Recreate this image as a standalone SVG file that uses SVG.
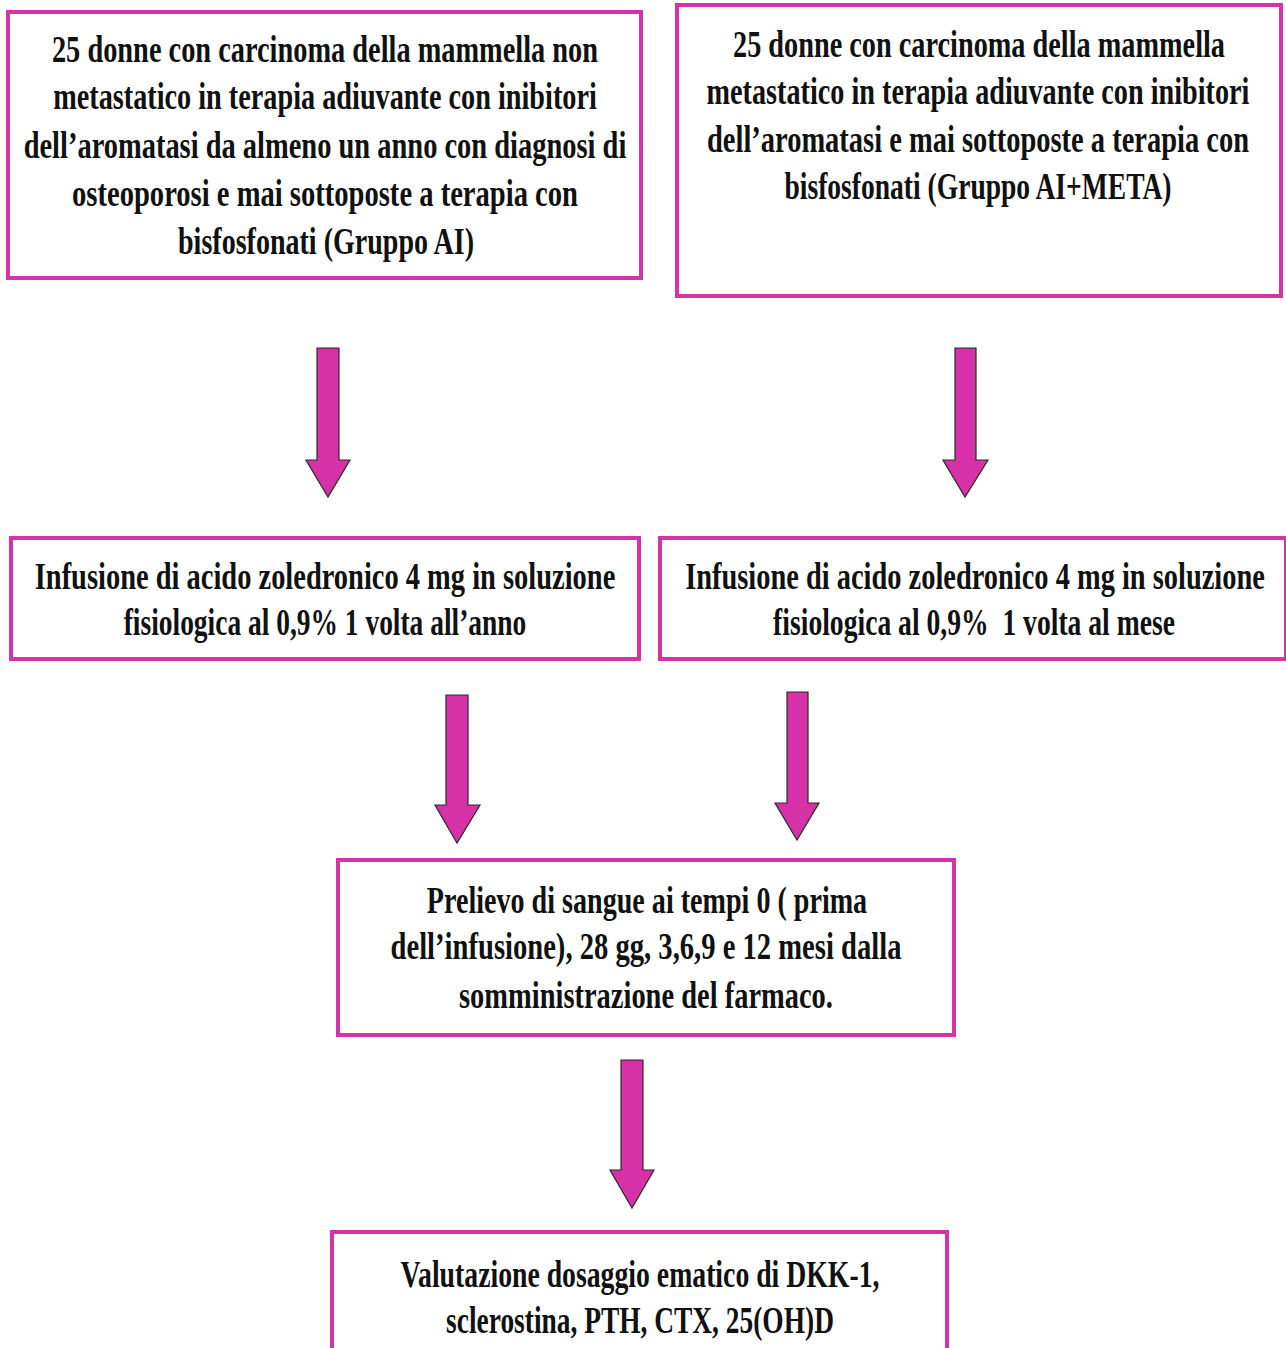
<svg xmlns="http://www.w3.org/2000/svg" width="1286" height="1348" viewBox="0 0 1286 1348">
<style>
.box{fill:#ffffff;stroke:#d633a9;stroke-width:4}
.t{font-family:"Liberation Serif","Times New Roman",serif;font-weight:bold;font-size:38px;fill:#111;text-anchor:middle}
.arr{fill:#d631a7;stroke:#2a2a2a;stroke-width:1.2;stroke-linejoin:miter}
</style>
<rect width="1286" height="1348" fill="#ffffff"/>
<g id="connectors">
<polygon class="arr" points="317,348 339,348 339,460 350,460 328,497 306,460 317,460"/>
<polygon class="arr" points="955,348 976,348 976,460 988,460 965,497 943,460 955,460"/>
<polygon class="arr" points="446,695 468,695 468,805 480,805 457,843 435,805 446,805"/>
<polygon class="arr" points="787,692 808,692 808,803 819,803 797,840 775,803 787,803"/>
<polygon class="arr" points="621,1060 643,1060 643,1170 654,1170 632,1208 610,1170 621,1170"/>
</g>
<g id="node-ai">
<rect class="box" x="8" y="12" width="633" height="266"/>
<text class="t" transform="translate(325,62) scale(0.82,1)" textLength="666" lengthAdjust="spacingAndGlyphs">25 donne con carcinoma della mammella non</text>
<text class="t" transform="translate(325,109) scale(0.82,1)" textLength="663" lengthAdjust="spacingAndGlyphs">metastatico in terapia adiuvante con inibitori</text>
<text class="t" transform="translate(325,158) scale(0.82,1)" textLength="735" lengthAdjust="spacingAndGlyphs">dell’aromatasi da almeno un anno con diagnosi di</text>
<text class="t" transform="translate(325,206) scale(0.82,1)" textLength="617" lengthAdjust="spacingAndGlyphs">osteoporosi e mai sottoposte a terapia con</text>
<text class="t" transform="translate(326,254) scale(0.82,1)" textLength="361" lengthAdjust="spacingAndGlyphs">bisfosfonati (Gruppo AI)</text>
</g>
<g id="node-aimeta">
<rect class="box" x="677" y="5" width="604" height="291"/>
<text class="t" transform="translate(979,57) scale(0.82,1)" textLength="600" lengthAdjust="spacingAndGlyphs">25 donne con carcinoma della mammella</text>
<text class="t" transform="translate(978,104) scale(0.82,1)" textLength="662" lengthAdjust="spacingAndGlyphs">metastatico in terapia adiuvante con inibitori</text>
<text class="t" transform="translate(978,152) scale(0.82,1)" textLength="661" lengthAdjust="spacingAndGlyphs">dell’aromatasi e mai sottoposte a terapia con</text>
<text class="t" transform="translate(978,199) scale(0.82,1)" textLength="472" lengthAdjust="spacingAndGlyphs">bisfosfonati (Gruppo AI+META)</text>
</g>
<g id="node-inf-anno">
<rect class="box" x="11" y="538" width="628" height="121"/>
<text class="t" transform="translate(325,589) scale(0.82,1)" textLength="708" lengthAdjust="spacingAndGlyphs">Infusione di acido zoledronico 4 mg in soluzione</text>
<text class="t" transform="translate(325,635) scale(0.82,1)" textLength="491" lengthAdjust="spacingAndGlyphs">fisiologica al 0,9% 1 volta all’anno</text>
</g>
<g id="node-inf-mese">
<rect class="box" x="660" y="538" width="626" height="121"/>
<text class="t" transform="translate(975,589) scale(0.82,1)" textLength="707" lengthAdjust="spacingAndGlyphs">Infusione di acido zoledronico 4 mg in soluzione</text>
<text class="t" transform="translate(974,635) scale(0.82,1)" textLength="490" lengthAdjust="spacingAndGlyphs" xml:space="preserve">fisiologica al 0,9%  1 volta al mese</text>
</g>
<g id="node-prelievo">
<rect class="box" x="338" y="860" width="616" height="175"/>
<text class="t" transform="translate(647,913) scale(0.82,1)" textLength="537" lengthAdjust="spacingAndGlyphs">Prelievo di sangue ai tempi 0 ( prima</text>
<text class="t" transform="translate(646,959) scale(0.82,1)" textLength="623" lengthAdjust="spacingAndGlyphs">dell’infusione), 28 gg, 3,6,9 e 12 mesi dalla</text>
<text class="t" transform="translate(646,1008) scale(0.82,1)" textLength="456" lengthAdjust="spacingAndGlyphs">somministrazione del farmaco.</text>
</g>
<g id="node-valutazione">
<rect class="box" x="332" y="1232" width="615" height="130"/>
<text class="t" transform="translate(640,1287) scale(0.82,1)" textLength="584" lengthAdjust="spacingAndGlyphs">Valutazione dosaggio ematico di DKK-1,</text>
<text class="t" transform="translate(640,1333) scale(0.82,1)" textLength="473" lengthAdjust="spacingAndGlyphs">sclerostina, PTH, CTX, 25(OH)D</text>
</g>
</svg>
